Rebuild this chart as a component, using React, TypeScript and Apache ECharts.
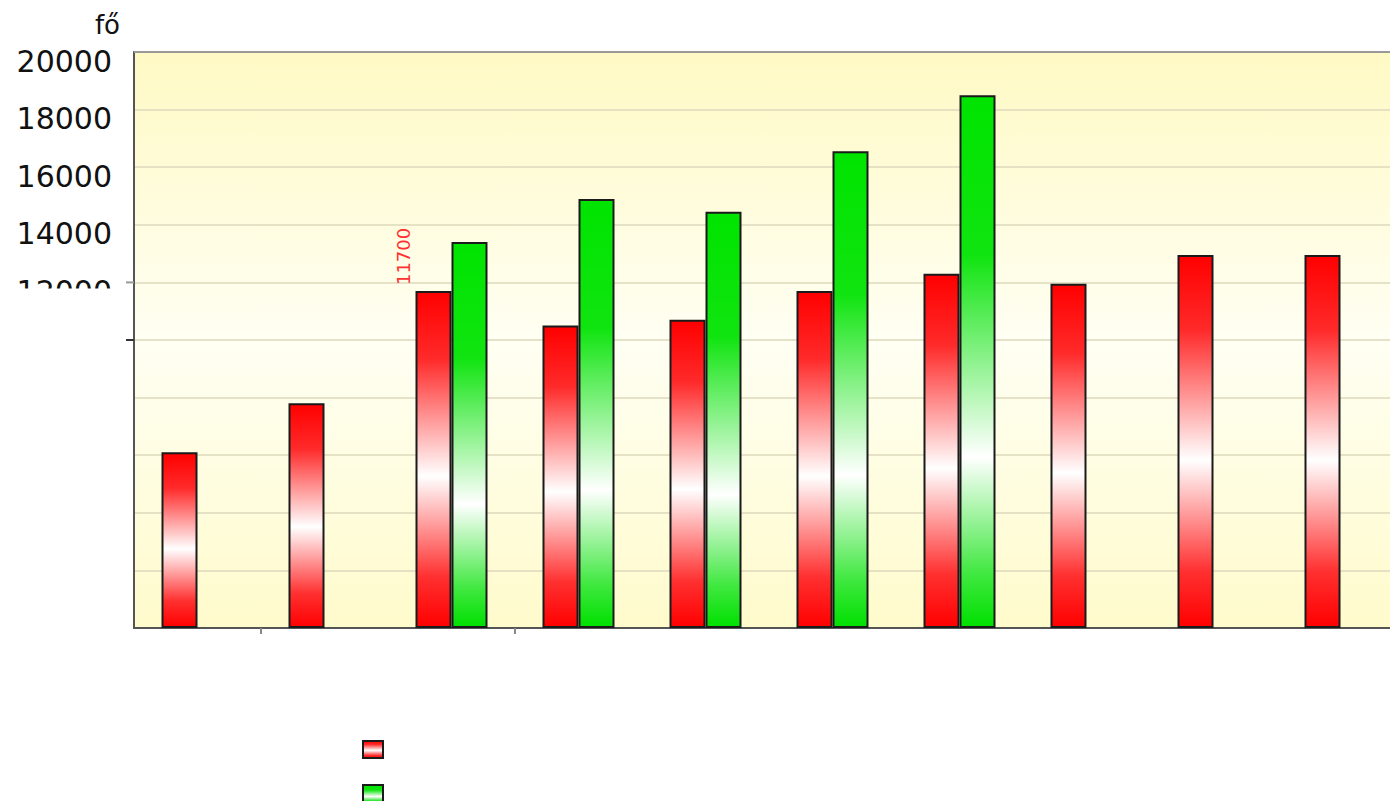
import React, { useEffect, useRef } from "react";
import * as echarts from "echarts";

const categories = ["1", "2", "3", "4", "5", "6", "7", "8", "9", "10"];
const redValues = [6100, 7800, 11700, 10500, 10700, 11700, 12300, 11950, 12950, 12950];
const greenValues = [null, null, 13400, 14900, 14450, 16550, 18500, null, null, null];
const shownLabelMin = 12000;
const axisName = "fő";
const redNote = "11700";

export default function App() {
  const ref = useRef<HTMLDivElement>(null);
  useEffect(() => {
    if (!ref.current) return;
    const chart = echarts.init(ref.current, null, { renderer: "svg" });
    const font = "DejaVu Sans";
    const redGrad = new echarts.graphic.LinearGradient(0, 0, 0, 1, [
      { offset: 0, color: "#ff0000" },
      { offset: 0.2, color: "#ff2a2a" },
      { offset: 0.55, color: "#ffffff" },
      { offset: 0.85, color: "#ff3030" },
      { offset: 1, color: "#ff0000" },
    ]);
    const greenGrad = new echarts.graphic.LinearGradient(0, 0, 0, 1, [
      { offset: 0, color: "#00e400" },
      { offset: 0.3, color: "#10e410" },
      { offset: 0.68, color: "#ffffff" },
      { offset: 0.9, color: "#40e840" },
      { offset: 1, color: "#00e000" },
    ]);
    chart.setOption({
      animation: false,
      grid: {
        left: 134,
        top: 52,
        right: 6,
        height: 576,
        show: true,
        borderWidth: 0,
        backgroundColor: new echarts.graphic.LinearGradient(0, 0, 0, 1, [
          { offset: 0, color: "#fff9c4" },
          { offset: 0.5, color: "#fffff3" },
          { offset: 1, color: "#fffbcc" },
        ]),
      },
      legend: {
        left: 362,
        top: 740,
        height: 120,
        padding: 0,
        orient: "vertical",
        itemWidth: 20,
        itemHeight: 17,
        itemGap: 25,
        icon: "rect",
        formatter: () => "",
        textStyle: { fontSize: 1, lineHeight: 1 },
        data: ["A", "B"],
      },
      xAxis: {
        type: "category",
        data: categories,
        boundaryGap: true,
        axisLine: { show: true, lineStyle: { color: "#555", width: 2 } },
        axisTick: {
          show: true,
          length: 6,
          interval: (i: number) => i === 1 || i === 3,
          lineStyle: { color: "#888", width: 2 },
        },
        axisLabel: { show: false },
        splitLine: { show: false },
      },
      yAxis: {
        type: "value",
        min: 0,
        max: 20000,
        interval: 2000,
        name: axisName,
        nameLocation: "end",
        nameGap: 14,
        nameTextStyle: {
          fontFamily: font,
          fontSize: 26,
          color: "#111",
          align: "right",
          padding: [0, 14, 0, 0],
        },
        axisLine: { show: true, lineStyle: { color: "#555", width: 2 } },
        axisTick: { show: false },
        axisLabel: {
          fontFamily: font,
          fontSize: 30,
          color: "#111",
          margin: 22,
          verticalAlign: "top",
          lineHeight: 18,
          formatter: (v: number) => (v >= shownLabelMin ? String(v) : ""),
        },
        splitLine: { show: true, lineStyle: { color: "#dcd8bc", width: 1.5 } },
      },
      series: [
        {
          name: "A",
          type: "bar",
          data: redValues,
          barWidth: 36,
          barGap: "0%",
          itemStyle: { color: redGrad, borderColor: "#1a1a1a", borderWidth: 2 },
        },
        {
          name: "B",
          type: "bar",
          data: greenValues,
          barWidth: 36,
          barGap: "0%",
          itemStyle: { color: greenGrad, borderColor: "#1a1a1a", borderWidth: 2 },
        },
      ],
    });
    const y12 = chart.convertToPixel({ yAxisIndex: 0 }, 12000) as number;
    const y10 = chart.convertToPixel({ yAxisIndex: 0 }, 10000) as number;
    const y20 = chart.convertToPixel({ yAxisIndex: 0 }, 20000) as number;
    const p3 = chart.convertToPixel({ xAxisIndex: 0, yAxisIndex: 0 }, [2, redValues[2]]) as number[];
    const x0 = 134;
    chart.setOption({
      graphic: [
        { type: "rect", shape: { x: 0, y: y12 + 6, width: x0 - 9, height: 30 }, style: { fill: "#ffffff" }, z: 100 },
        { type: "line", shape: { x1: x0 - 8, y1: y12, x2: x0, y2: y12 }, style: { stroke: "#999", lineWidth: 2 }, z: 101 },
        { type: "line", shape: { x1: x0 - 8, y1: y10, x2: x0, y2: y10 }, style: { stroke: "#333", lineWidth: 2 }, z: 101 },
        { type: "line", shape: { x1: x0, y1: y20, x2: 1410, y2: y20 }, style: { stroke: "#999", lineWidth: 2 }, z: 101 },
        {
          type: "text",
          x: p3[0] - 48,
          y: p3[1] - 6,
          rotation: Math.PI / 2,
          z: 101,
          style: {
            text: redNote,
            fill: "#ff3030",
            fontSize: 18,
            fontFamily: font,
            align: "left",
            verticalAlign: "middle",
          },
        },
      ],
    });
    return () => chart.dispose();
  }, []);
  return (
    <div
      ref={ref}
      style={{ position: "fixed", left: 0, top: 0, width: 1410, height: 801, background: "#fff" }}
    />
  );
}
